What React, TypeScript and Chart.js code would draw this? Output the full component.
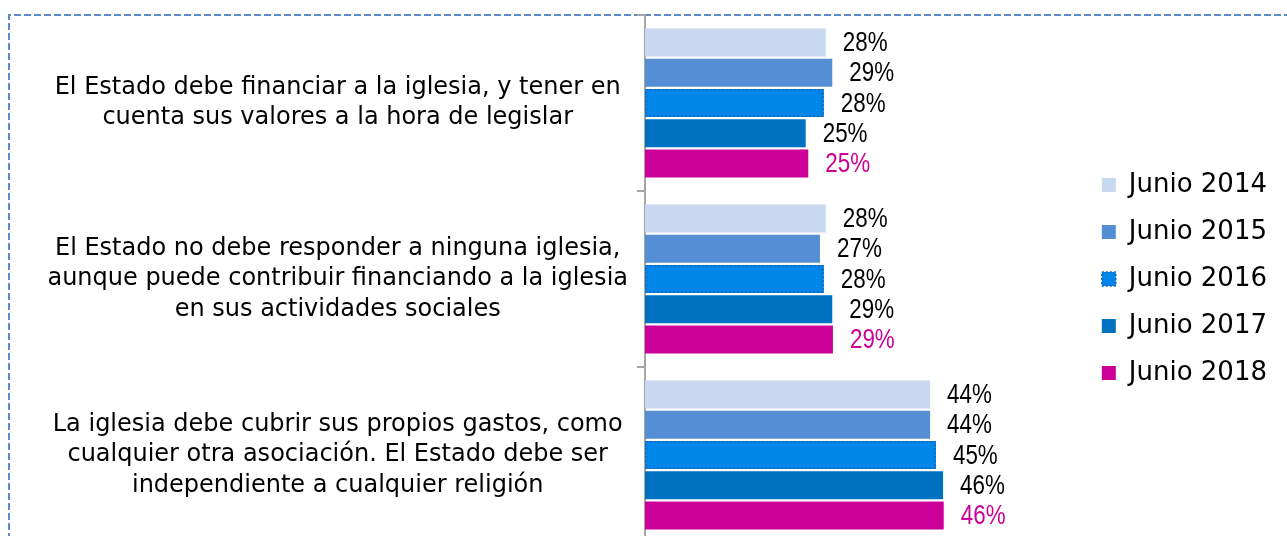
import React, { useEffect, useRef } from "react";
import { Chart, registerables } from "chart.js";

Chart.register(...registerables);

// ---- data ----
const categories: string[][] = [
  ["El Estado debe financiar a la iglesia, y tener en", "cuenta sus valores a la hora de legislar"],
  [
    "El Estado no debe responder a ninguna iglesia,",
    "aunque puede contribuir financiando a la iglesia",
    "en sus actividades sociales",
  ],
  [
    "La iglesia debe cubrir sus propios gastos, como",
    "cualquier otra asociación. El Estado debe ser",
    "independiente a cualquier religión",
  ],
];
const seriesNames = ["Junio 2014", "Junio 2015", "Junio 2016", "Junio 2017", "Junio 2018"];
const junio2014 = [27.9, 27.9, 44.0];
const junio2015 = [28.9, 27.0, 44.0];
const junio2016 = [27.6, 27.6, 44.9];
const junio2017 = [24.8, 28.9, 46.0];
const junio2018 = [25.2, 29.0, 46.1];

// ---- styles ----
const seriesColors = ["#C6D9F1", "#558ED5", "#0085E8", "#0070C0", "#CC0099"];
const labelColors = ["#000000", "#000000", "#000000", "#000000", "#CC0099"];
const PX_PER_PCT = 6.48;
const AXIS_WIDTH = 645;
const CANVAS_W = 1287;
const CANVAS_H = 550;

const frameBorder = {
  id: "frameBorder",
  beforeDraw(chart: any) {
    const ctx = chart.ctx;
    ctx.save();
    ctx.strokeStyle = "#5B8BC8";
    ctx.lineWidth = 2;
    ctx.setLineDash([7, 3]);
    ctx.beginPath();
    ctx.moveTo(9, chart.height);
    ctx.lineTo(9, 15);
    ctx.lineTo(chart.width, 15);
    ctx.stroke();
    ctx.restore();
  },
};

const dottedBars = {
  id: "dottedBars",
  afterDatasetsDraw(chart: any) {
    const ctx = chart.ctx;
    const meta = chart.getDatasetMeta(2);
    ctx.save();
    ctx.strokeStyle = "#1466B8";
    ctx.lineWidth = 1.5;
    ctx.setLineDash([2, 2]);
    meta.data.forEach((el: any) => {
      const { x, y, base, height } = el.getProps(["x", "y", "base", "height"], true);
      ctx.strokeRect(base + 0.75, y - height / 2 + 0.75, x - base - 1.5, height - 1.5);
    });
    ctx.restore();
  },
};

const valueLabels = {
  id: "valueLabels",
  afterDatasetsDraw(chart: any) {
    const ctx = chart.ctx;
    chart.data.datasets.forEach((ds: any, i: number) => {
      const meta = chart.getDatasetMeta(i);
      meta.data.forEach((el: any, j: number) => {
        const { x, y } = el.getProps(["x", "y"], true);
        ctx.save();
        ctx.font = "28px 'Liberation Sans', Arial, sans-serif";
        ctx.textAlign = "left";
        ctx.textBaseline = "middle";
        ctx.fillStyle = labelColors[i];
        ctx.translate(x + 17, y + 1);
        ctx.scale(0.8, 1);
        ctx.fillText(Math.round(ds.data[j]) + "%", 0, 0);
        ctx.restore();
      });
    });
  },
};

export default function App() {
  const ref = useRef<HTMLCanvasElement | null>(null);

  useEffect(() => {
    if (!ref.current) return;
    Chart.defaults.font.family = "'DejaVu Sans', sans-serif";
    const values = [junio2014, junio2015, junio2016, junio2017, junio2018];
    const chart = new Chart(ref.current, {
      type: "bar",
      data: {
        labels: categories,
        datasets: seriesNames.map((name, i) => ({
          label: name,
          data: values[i],
          backgroundColor: seriesColors[i],
          borderWidth: 0,
          categoryPercentage: 0.86,
          barPercentage: 0.93,
        })),
      },
      options: {
        indexAxis: "y",
        responsive: false,
        animation: false,
        layout: { padding: { top: 15, bottom: 7, left: 0, right: 10 } },
        scales: {
          x: { display: false, min: 0, max: 60 },
          y: {
            afterFit: (scale: any) => {
              scale.width = AXIS_WIDTH;
              scale.paddingTop = 0;
              scale.paddingBottom = 0;
            },
            grid: {
              display: true,
              drawOnChartArea: false,
              drawTicks: true,
              tickLength: 8,
              color: "#A6A6A6",
              lineWidth: 2,
              offset: true,
            },
            border: { display: true, color: "#A6A6A6", width: 2 },
            ticks: {
              autoSkip: false,
              crossAlign: "center",
              padding: 9,
              color: "#000000",
              font: { size: 24, lineHeight: 1.27, family: "'DejaVu Sans', sans-serif" },
            },
          },
        },
        plugins: {
          tooltip: { enabled: false },
          legend: {
            position: "right",
            labels: {
              boxWidth: 14,
              boxHeight: 14,
              padding: 21,
              color: "#000000",
              font: { size: 26, family: "'DejaVu Sans', sans-serif" },
              generateLabels: (c: any) => {
                const items = (Chart.defaults as any).plugins.legend.labels.generateLabels(c);
                items.forEach((it: any, i: number) => {
                  it.lineWidth = 0;
                  it.strokeStyle = it.fillStyle;
                  if (i === 2) {
                    it.lineWidth = 1.5;
                    it.lineDash = [2, 2];
                    it.strokeStyle = "#1466B8";
                  }
                });
                return items;
              },
            },
          },
        },
      } as any,
      plugins: [frameBorder, dottedBars, valueLabels],
    });
    const ca = chart.chartArea;
    (chart.options as any).scales.x.max = (ca.right - ca.left) / PX_PER_PCT;
    chart.update();
    return () => chart.destroy();
  }, []);

  return (
    <div
      style={{
        position: "fixed",
        left: 0,
        top: 0,
        width: CANVAS_W,
        height: 536,
        overflow: "hidden",
        background: "#ffffff",
      }}
    >
      <canvas
        ref={ref}
        width={CANVAS_W}
        height={CANVAS_H}
        style={{ display: "block", width: CANVAS_W, height: CANVAS_H }}
      />
    </div>
  );
}
